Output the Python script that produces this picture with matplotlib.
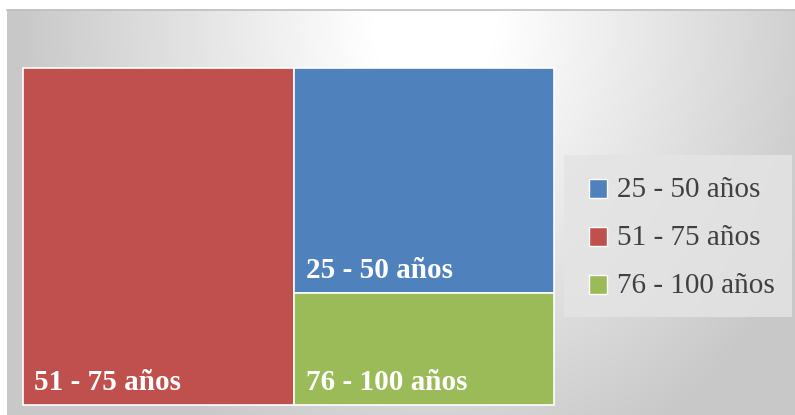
import numpy as np
import matplotlib
matplotlib.use("Agg")
import matplotlib.pyplot as plt
from matplotlib.patches import Rectangle

categories = ["25 - 50 años", "51 - 75 años", "76 - 100 años"]
values = [40, 63, 20]
colors = ["#4f81bd", "#c0504d", "#9bbb59"]

W, H = 795, 415
fig = plt.figure(figsize=(W / 100, H / 100), dpi=100)
ax = fig.add_axes([0, 0, 1, 1])
ax.set_xlim(0, W)
ax.set_ylim(H, 0)
ax.axis("off")

# background radial gradient
yy, xx = np.mgrid[0:H, 0:W]
d = np.sqrt(((xx - 430) / 420.0) ** 2 + ((yy - 20) / 480.0) ** 2)
t = np.clip((d - 0.15) / 0.85, 0, 1)
g = 1.0 - 0.215 * t
img = np.dstack([g, g, g])
ax.imshow(img, extent=(7, W, H, 10), zorder=0, interpolation="bilinear", aspect="auto")
ax.plot([7, W], [10.5, 10.5], color="#c0c0c0", lw=1.2, zorder=1)

# treemap layout computed from values
x0, y0, tw, th = 22.5, 68.5, 531, 336
total = sum(values)
order = [1, 0, 2]  # largest first column, then the rest stacked
big = order[0]
w_big = tw * values[big] / total
rects = {}
rects[big] = (x0, y0, w_big, th)
rest = order[1:]
rest_total = sum(values[i] for i in rest)
cy = y0
for i in rest:
    h = th * values[i] / rest_total
    rects[i] = (x0 + w_big, cy, tw - w_big, h)
    cy += h

for i, (rx, ry, rw, rh) in rects.items():
    ax.add_patch(Rectangle((rx, ry), rw, rh, facecolor=colors[i], edgecolor="white",
                           lw=1.2, zorder=2))
    ax.text(rx + 12, ry + rh - 15, categories[i], color="white", fontsize=21,
            fontweight="bold", family="Liberation Serif", ha="left", va="baseline", zorder=3)

# legend
ax.add_patch(Rectangle((564, 155), 228, 162, facecolor="#e4e4e4", edgecolor="none", alpha=0.85, zorder=2))
for k, i in enumerate([0, 1, 2]):
    cyk = 188.5 + k * 48
    ax.add_patch(Rectangle((589, cyk - 9.5), 18, 19, facecolor=colors[i], edgecolor="white",
                           lw=1.0, zorder=3))
    ax.text(617, cyk + 1, categories[i], color="#404040", fontsize=21,
            family="Liberation Serif", ha="left", va="center", zorder=3)

fig.savefig("out.png", dpi=100)
